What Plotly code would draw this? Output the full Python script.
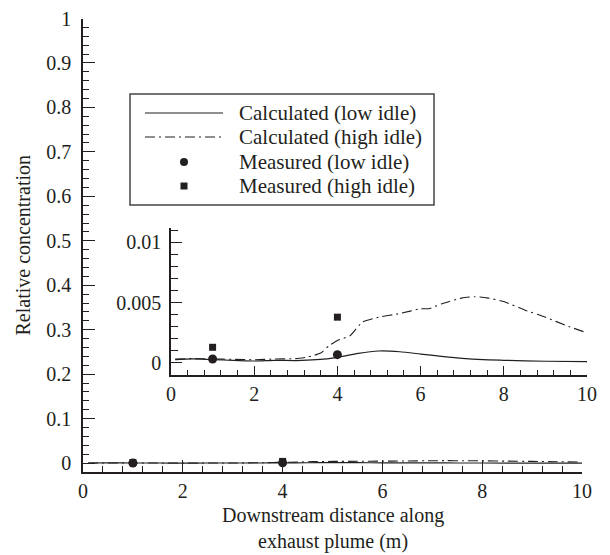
import plotly.graph_objects as go

# ---- data ----
calc_low_x = [0.1, 0.5, 1.0, 1.5, 2.0, 2.5, 3.0, 3.5, 4.0, 4.5, 5.0, 5.5, 6.0, 6.5, 7.0, 7.5, 8.0, 9.0, 10.0]
calc_low_y = [0.00027, 0.00033, 0.00027, 0.00022, 0.00016, 0.00022, 0.00020, 0.00027, 0.00047, 0.00080,
              0.00099, 0.00093, 0.00074, 0.00055, 0.00038, 0.00027, 0.00022, 0.00014, 0.00011]

calc_high_x = [0.1, 0.5, 1.0, 1.5, 2.0, 2.5, 3.0, 3.3, 3.6, 3.8, 4.0, 4.3, 4.6, 5.0, 5.5, 6.0, 6.2,
               6.5, 7.0, 7.3, 7.6, 8.0, 8.5, 9.0, 9.5, 10.0]
calc_high_y = [0.00033, 0.00036, 0.00033, 0.00030, 0.00027, 0.00033, 0.00036, 0.00050, 0.00082, 0.00143,
               0.00187, 0.00225, 0.00340, 0.00380, 0.00410, 0.00450, 0.00450, 0.00490, 0.00540, 0.00550,
               0.00540, 0.00510, 0.00440, 0.00380, 0.00310, 0.00250]

meas_x = [1, 4]
meas_low_y = [0.00033, 0.00069]
meas_high_y = [0.0013, 0.0038]

legend_labels = ["Calculated (low idle)", "Calculated (high idle)", "Measured (low idle)", "Measured (high idle)"]
x_title = "Downstream distance along<br>exhaust plume (m)"
y_title = "Relative concentration"

main_y_ticks = [0, 0.1, 0.2, 0.3, 0.4, 0.5, 0.6, 0.7, 0.8, 0.9, 1]
x_ticks = [0, 2, 4, 6, 8, 10]
inset_y_ticks = [0, 0.005, 0.01]

# ---- layout helpers ----
W, H = 610, 555
FONT = "Liberation Serif, Times New Roman, serif"
INK = "#231f20"


def px(x):
    return x / W


def py(y):
    return 1 - y / H


fig = go.Figure()

DASHDOT = "10px,4px,2px,4px"

for xa, ya in (("x", "y"), ("x2", "y2")):
    fig.add_trace(go.Scatter(x=calc_low_x, y=calc_low_y, mode="lines", xaxis=xa, yaxis=ya,
                             line=dict(color=INK, width=1.2, shape="spline", smoothing=0.6),
                             name=legend_labels[0], showlegend=False))
    fig.add_trace(go.Scatter(x=calc_high_x, y=calc_high_y, mode="lines", xaxis=xa, yaxis=ya,
                             line=dict(color=INK, width=1.1, dash=DASHDOT, shape="spline", smoothing=0.4),
                             name=legend_labels[1], showlegend=False))
    fig.add_trace(go.Scatter(x=meas_x, y=meas_high_y, mode="markers", xaxis=xa, yaxis=ya,
                             marker=dict(symbol="square", size=7, color=INK),
                             name=legend_labels[3], showlegend=False))
    fig.add_trace(go.Scatter(x=meas_x, y=meas_low_y, mode="markers", xaxis=xa, yaxis=ya,
                             marker=dict(symbol="circle", size=9, color=INK),
                             name=legend_labels[2], showlegend=False))

axis_common = dict(
    showline=True, linecolor=INK, linewidth=1.5, mirror=False,
    ticks="inside", tickcolor=INK, tickwidth=1.2,
    showgrid=False, zeroline=False, automargin=False,
    tickfont=dict(family=FONT, size=20, color=INK),
)

fig.update_layout(
    width=W, height=H,
    template="none",
    margin=dict(l=0, r=0, t=0, b=0),
    paper_bgcolor="white", plot_bgcolor="rgba(0,0,0,0)",
    showlegend=False,
    font=dict(family=FONT, size=20, color=INK),
    xaxis=dict(axis_common, domain=[px(83), px(582)], range=[0, 10], anchor="y",
               tickvals=x_ticks, ticklen=12,
               minor=dict(dtick=0.4, tick0=0, ticks="inside", ticklen=6, tickcolor=INK, tickwidth=1.2)),
    yaxis=dict(axis_common, domain=[py(472), py(18.5)], range=[-0.02, 1], anchor="x",
               tickvals=main_y_ticks, ticklen=12, ticklabelstandoff=6,
               minor=dict(dtick=0.02, tick0=0, ticks="inside", ticklen=6, tickcolor=INK, tickwidth=1.2),
               title=dict(text=y_title, font=dict(family=FONT, size=20, color=INK), standoff=10)),
    xaxis2=dict(axis_common, domain=[px(171), px(587)], range=[0, 10], anchor="y2",
                tickvals=x_ticks, ticklen=9,
                minor=dict(dtick=0.4, tick0=0, ticks="inside", ticklen=5, tickcolor=INK, tickwidth=1.2)),
    yaxis2=dict(axis_common, domain=[py(375), py(228)], range=[-0.001, 0.0112], anchor="x2",
                tickvals=inset_y_ticks, ticklen=11, ticklabelstandoff=4,
                minor=dict(dtick=0.001, tick0=0, ticks="inside", ticklen=7, tickcolor=INK, tickwidth=1.2)),
)

# ---- legend drawn as a framed key ----
box = dict(l=130, t=94, r=434, b=205)
rows = [113, 137, 162, 186]
sample_x0, sample_x1, text_x = 145, 223, 237
mid = (sample_x0 + sample_x1) / 2

shapes = [
    dict(type="rect", xref="paper", yref="paper", x0=px(box["l"]), x1=px(box["r"]),
         y0=py(box["b"]), y1=py(box["t"]), line=dict(color="#444", width=1.5),
         fillcolor="white", layer="above"),
    dict(type="line", xref="paper", yref="paper", x0=px(sample_x0), x1=px(sample_x1),
         y0=py(rows[0]), y1=py(rows[0]), line=dict(color=INK, width=1.2), layer="above"),
    dict(type="line", xref="paper", yref="paper", x0=px(sample_x0), x1=px(sample_x1),
         y0=py(rows[1]), y1=py(rows[1]), line=dict(color=INK, width=1.1, dash=DASHDOT), layer="above"),
    dict(type="circle", xref="paper", yref="paper", x0=px(mid - 4), x1=px(mid + 4),
         y0=py(rows[2] + 4), y1=py(rows[2] - 4), line=dict(color=INK, width=0), fillcolor=INK, layer="above"),
    dict(type="rect", xref="paper", yref="paper", x0=px(mid - 3.5), x1=px(mid + 3.5),
         y0=py(rows[3] + 3.5), y1=py(rows[3] - 3.5), line=dict(color=INK, width=0), fillcolor=INK, layer="above"),
]
annotations = [
    dict(text=lab, xref="paper", yref="paper", x=px(text_x), y=py(r), xanchor="left", yanchor="middle",
         showarrow=False, font=dict(family=FONT, size=21, color=INK))
    for lab, r in zip(legend_labels, rows)
]
# x-axis title (two lines) placed under the main axis tick labels
annotations.append(dict(text=x_title, xref="paper", yref="paper", x=px(332.5), y=py(503),
                        xanchor="center", yanchor="top", showarrow=False, borderpad=0,
                        font=dict(family=FONT, size=20, color=INK)))
fig.update_layout(shapes=shapes, annotations=annotations)

# the page's default 8px body margin would push the figure off the window; remove it
fig.write_html("out.html", config={"displayModeBar": False},
               post_script="document.body.style.margin='0px';")
